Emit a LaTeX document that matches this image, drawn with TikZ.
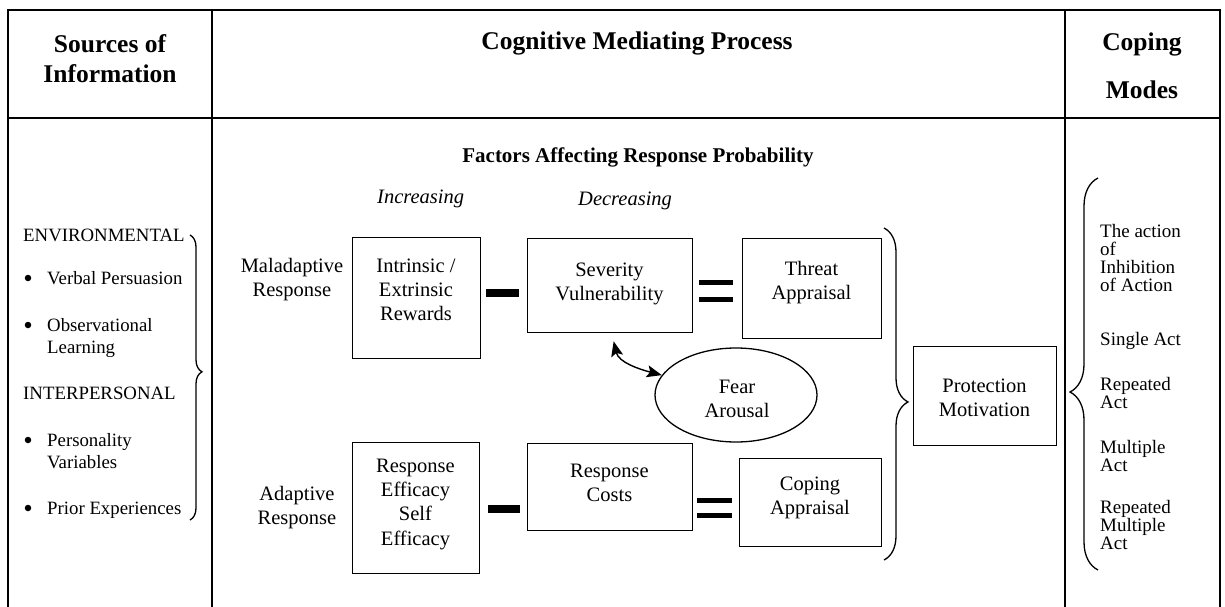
\documentclass[tikz,border=0pt]{standalone}
\usepackage{fontspec}
\setmainfont{Liberation Serif}
\usetikzlibrary{arrows.meta,decorations.pathreplacing,shapes.geometric}

% invisible rule that fixes the height of a first line
\newcommand{\firstline}[1]{\rule{0pt}{#1}}

\begin{document}
\begin{tikzpicture}[x=1pt,y=-1pt,
  frame/.style={line width=2pt, line cap=rect},
  box/.style={draw, line width=1.3pt, rectangle, inner sep=0pt, anchor=north west},
  hdr/.style={font=\fontsize{25.5}{30}\selectfont\bfseries, inner sep=0pt, align=center},
  body/.style={font=\fontsize{20.5}{24.3}\selectfont, inner sep=0pt, align=center, anchor=north},
  ital/.style={font=\fontsize{20.5}{24}\selectfont\itshape, inner sep=0pt, anchor=base west},
  side/.style={font=\fontsize{18.8}{22}\selectfont, inner sep=0pt, align=left, anchor=north west},
  dot/.style={circle, fill=black, inner sep=0pt, minimum size=6.5pt},
  modes/.style={font=\fontsize{19}{18}\selectfont, inner sep=0pt, align=left, anchor=north west},
  bar/.style={fill=black},
  curly/.style={decorate, line width=1.3pt},
  link/.style={line width=1.4pt, {Stealth[length=15pt,width=12pt,inset=3pt]}-{Stealth[length=15pt,width=12pt,inset=3pt]}}
]
\useasboundingbox (0,0) rectangle (1225,607);

% table frame
\draw[frame] (8,607) -- (8,10) -- (1220,10) -- (1220,607);
\draw[frame] (8,118) -- (1220,118);
\draw[frame] (212,10) -- (212,607);
\draw[frame] (1065,10) -- (1065,607);

% column headings
\node[hdr, anchor=north] (hsrc) at (110,31) {\strut Sources of\\Information};
\node[hdr, anchor=base] (hcog) at (637,50) {Cognitive Mediating Process};
\node[hdr, anchor=north, font=\fontsize{25.5}{48}\selectfont\bfseries] (hcop) at (1142,16.4) {\strut Coping\\Modes};

% sources of information (first baseline minus 15pt)
\node[side] (env) at (23,226.5) {\firstline{15pt}ENVIRONMENTAL};
\node[dot] (b1) at (28,278) {};
\node[side] (vp) at (47,269.5) {\firstline{15pt}Verbal Persuasion};
\node[dot] (b2) at (28,325) {};
\node[side] (ol) at (47,316.5) {\firstline{15pt}Observational\\Learning};
\node[side] (inter) at (23,384.5) {\firstline{15pt}INTERPERSONAL};
\node[dot] (b3) at (28,440) {};
\node[side] (pv) at (47,431.5) {\firstline{15pt}Personality\\Variables};
\node[dot] (b4) at (28,508) {};
\node[side] (pe) at (47,499.5) {\firstline{15pt}Prior Experiences};
\draw[curly, decoration={brace, amplitude=12pt, aspect=0.48}] (190,235) -- (190,520);

% cognitive mediating process (first baseline minus 17pt)
\node[font=\fontsize{21}{25}\selectfont\bfseries, inner sep=0pt, anchor=base] (fac) at (638,162) {Factors Affecting Response Probability};
\node[ital] (inc) at (377,203) {Increasing};
\node[ital] (dec) at (578,205) {Decreasing};

\node[body] (mal) at (292,255) {\firstline{17pt}Maladaptive\\Response};
\node[body] (ada) at (297,483) {\firstline{17pt}Adaptive\\Response};

\node[box, minimum width=128pt, minimum height=121pt] (ier) at (352,237) {};
\node[body] (iert) at (416,255) {\firstline{17pt}Intrinsic /\\Extrinsic\\Rewards};

\node[box, minimum width=165pt, minimum height=94pt] (sev) at (527,238) {};
\node[body] (sevt) at (609.5,259) {\firstline{17pt}Severity\\Vulnerability};

\node[box, minimum width=139pt, minimum height=100pt] (thr) at (742,238) {};
\node[body] (thrt) at (811.5,258) {\firstline{17pt}Threat\\Appraisal};

\node[box, minimum width=127pt, minimum height=131pt] (rse) at (352,442) {};
\node[body] (rset) at (415.5,455) {\firstline{17pt}Response\\Efficacy\\Self\\Efficacy};

\node[box, minimum width=165pt, minimum height=87pt] (rc) at (527,443) {};
\node[body] (rct) at (609.5,460) {\firstline{17pt}Response\\Costs};

\node[box, minimum width=142pt, minimum height=88pt] (cop) at (739,458) {};
\node[body] (copt) at (810,473) {\firstline{17pt}Coping\\Appraisal};

\node[draw, ellipse, line width=1.3pt, inner sep=0pt, minimum width=162pt, minimum height=94pt] (fear) at (736,395) {};
\node[body] (feart) at (737,376) {\firstline{17pt}Fear\\Arousal};

\node[box, minimum width=143pt, minimum height=99pt] (pm) at (913,346) {};
\node[body] (pmt) at (984.5,375) {\firstline{17pt}Protection\\Motivation};

% minus and equals signs
\fill[bar] (486,288.5) rectangle (519,296.5);
\fill[bar] (488,505) rectangle (520,513);
\fill[bar] (699,280) rectangle (733,285);
\fill[bar] (699,297) rectangle (733,302);
\fill[bar] (697,498) rectangle (732,503);
\fill[bar] (697,513) rectangle (732,518);

% fear arousal link
\draw[link] ([xshift=3.5pt,yshift=-8pt]sev.south) .. controls +(5,21) and +(-23,-6) .. (fear.165);

% appraisal brace
\draw[curly, decoration={brace, amplitude=24pt, aspect=0.524}] (884,228) -- (884,560);

% coping modes (first baseline minus 13pt)
\draw[curly, decoration={brace, amplitude=28pt, aspect=0.454}] (1098,570) -- (1098,178);
\node[modes] (m1) at (1100,224) {\firstline{13pt}The action\\of\\Inhibition\\of Action};
\node[modes] (m2) at (1100,332) {\firstline{13pt}Single Act};
\node[modes] (m3) at (1100,377) {\firstline{13pt}Repeated\\Act};
\node[modes] (m4) at (1100,440) {\firstline{13pt}Multiple\\Act};
\node[modes] (m5) at (1100,500) {\firstline{13pt}Repeated\\Multiple\\Act};
\end{tikzpicture}
\end{document}
